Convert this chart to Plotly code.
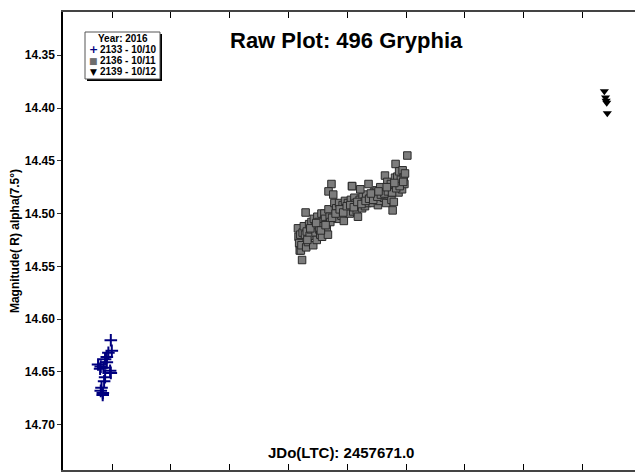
import plotly.graph_objects as go

# Session 2133 - 10/10 (crosses)
s1_x = [1.4978, 1.4995, 1.4937, 1.4910, 1.4910, 1.4807, 1.4852, 1.4796, 1.4966, 1.4978,
        1.4881, 1.4864, 1.4807, 1.4842, 1.4761, 1.4820, 1.4880, 1.4840]
s1_y = [14.620, 14.630, 14.632, 14.636, 14.641, 14.645, 14.646, 14.647, 14.649, 14.651,
        14.655, 14.659, 14.668, 14.670, 14.643, 14.665, 14.638, 14.672]

# Session 2136 - 10/11 (squares)
s2_x = [1.816, 1.817, 1.818, 1.819, 1.820, 1.821, 1.823, 1.822, 1.824,
        1.826, 1.828, 1.829, 1.830, 1.831, 1.833, 1.835, 1.836, 1.838, 1.839, 1.842,
        1.843, 1.845, 1.846, 1.848, 1.849, 1.851, 1.852, 1.854, 1.856, 1.857, 1.859,
        1.861, 1.862, 1.864, 1.865, 1.867, 1.868, 1.870, 1.871, 1.873, 1.868, 1.876, 1.878,
        1.881, 1.883, 1.884, 1.886, 1.888, 1.890, 1.892, 1.894, 1.896, 1.898,
        1.901, 1.903, 1.904, 1.906, 1.908, 1.910, 1.912, 1.914, 1.916, 1.918,
        1.921, 1.923, 1.925, 1.926, 1.928, 1.930, 1.932, 1.934, 1.936, 1.938,
        1.941, 1.943, 1.945, 1.946, 1.948, 1.950, 1.952, 1.954, 1.956, 1.958,
        1.961, 1.962, 1.964, 1.966, 1.968, 1.970, 1.972, 1.974, 1.975, 1.977, 1.978, 1.979,
        1.981, 1.982, 1.984, 1.985, 1.987, 1.988, 1.990, 1.991, 1.993, 1.994, 1.996, 1.997, 2.002,
        1.832, 1.837, 1.847, 1.855, 1.863, 1.874, 1.880, 1.887, 1.893, 1.899, 1.905,
        1.911, 1.917, 1.924, 1.931, 1.937, 1.944, 1.951, 1.957, 1.963, 1.969, 1.976,
        1.983, 1.989, 1.995, 1.998, 1.908, 1.922, 1.940, 1.953, 1.967, 1.980]
s2_y = [14.514, 14.522, 14.528, 14.535, 14.520, 14.535, 14.544, 14.530, 14.518,
        14.512, 14.520, 14.499, 14.532, 14.517, 14.527, 14.510, 14.521, 14.515, 14.508, 14.530,
        14.505, 14.512, 14.518, 14.525, 14.503, 14.508, 14.515, 14.520, 14.500, 14.522, 14.512,
        14.500, 14.505, 14.510, 14.515, 14.520, 14.496, 14.503, 14.508, 14.472, 14.479, 14.482, 14.490,
        14.495, 14.500, 14.505, 14.490, 14.498, 14.502, 14.492, 14.507, 14.488, 14.495,
        14.490, 14.495, 14.500, 14.487, 14.474, 14.498, 14.485, 14.490, 14.497, 14.503,
        14.487, 14.492, 14.495, 14.484, 14.489, 14.493, 14.482, 14.490, 14.472, 14.486,
        14.485, 14.490, 14.480, 14.487, 14.483, 14.478, 14.492, 14.488, 14.475, 14.484,
        14.480, 14.485, 14.464, 14.490, 14.470, 14.478, 14.483, 14.472, 14.487, 14.497, 14.476, 14.489,
        14.466, 14.453, 14.475, 14.465, 14.480, 14.460, 14.472, 14.468, 14.477, 14.459, 14.466, 14.472, 14.445,
        14.525, 14.514, 14.509, 14.516, 14.511, 14.504, 14.500, 14.496, 14.499, 14.493, 14.492,
        14.494, 14.489, 14.491, 14.488, 14.486, 14.487, 14.484, 14.482, 14.481, 14.479, 14.480,
        14.476, 14.474, 14.470, 14.462, 14.474, 14.477, 14.481, 14.479, 14.475, 14.471]

# Session 2139 - 10/12 (triangles)
s3_x = [2.337, 2.339, 2.340, 2.341, 2.342]
s3_y = [14.384, 14.390, 14.393, 14.395, 14.405]

legend_title = "Year: 2016"
names = ["2133 - 10/10", "2136 - 10/11", "2139 - 10/12"]
legend_glyphs = ["+", "\u25a0", "\u25bc"]
legend_colors = ["#00007f", "#6e6e6e", "black"]
main_title = "Raw Plot: 496 Gryphia"
x_label = "JDo(LTC): 2457671.0"
y_label = "Magnitude( R) alpha(7.5°)"
x_ticks = [1.5, 1.6, 1.7, 1.8, 1.9, 2.0, 2.1, 2.2, 2.3]
y_ticks = [14.35, 14.40, 14.45, 14.50, 14.55, 14.60, 14.65, 14.70]

FONT = "Liberation Sans"

# page has an 8px body margin; figure sized so plot area lands at absolute px 63..642 x 12..470
OFF = 8
W, H = 635, 468
PL, PR, PT, PB = 63, 642, 12, 470          # absolute plot-area edges in the window
ML, MR = PL - OFF, OFF + W - PR
MT, MB = PT - OFF, OFF + H - PB
PW, PH = PR - PL, PB - PT


def px(x):
    return (x - PL) / PW


def py(y):
    return (PB - y) / PH


fig = go.Figure()
fig.add_trace(go.Scatter(x=s1_x, y=s1_y, mode="markers", name=names[0],
                         marker=dict(symbol="cross-thin", size=9, color="#00007f",
                                     line=dict(color="#00007f", width=2))))
fig.add_trace(go.Scatter(x=s2_x, y=s2_y, mode="markers", name=names[1],
                         marker=dict(symbol="square", size=7.5, color="#7c7c7c",
                                     line=dict(color="#2a2a2a", width=1))))
fig.add_trace(go.Scatter(x=s3_x, y=s3_y, mode="markers", name=names[2],
                         marker=dict(symbol="triangle-down", size=8, color="black",
                                     line=dict(color="black", width=0))))
fig.add_trace(go.Scatter(x=[None], y=[None], yaxis="y2", showlegend=False, hoverinfo="skip"))

xr = [1.4165, 2.401]
yr = [14.743, 14.309]

shapes = [
    dict(type="rect", xref="paper", yref="paper", x0=px(87), x1=px(162), y0=py(81), y1=py(34),
         fillcolor="black", line=dict(width=0), layer="above"),
    dict(type="rect", xref="paper", yref="paper", x0=px(85), x1=px(160), y0=py(79), y1=py(32),
         fillcolor="white", line=dict(color="#555", width=1), layer="above"),
]

annotations = [
    dict(text="<b>" + main_title + "</b>", xref="paper", yref="paper", x=px(346), y=py(40),
         xanchor="center", yanchor="middle", showarrow=False,
         font=dict(family=FONT, size=22, color="black")),
    dict(text="<b>" + x_label + "</b>", xref="paper", yref="paper", x=px(341), y=py(452),
         xanchor="center", yanchor="middle", showarrow=False,
         font=dict(family=FONT, size=15, color="black")),
    dict(text="<b>" + legend_title + "</b>", xref="paper", yref="paper", x=px(123), y=py(38),
         xanchor="center", yanchor="middle", showarrow=False,
         font=dict(family=FONT, size=10, color="black")),
]
for i, (nm, g, c) in enumerate(zip(names, legend_glyphs, legend_colors)):
    yy = 49 + i * 11.5
    annotations.append(dict(text="<b>" + g + "</b>", xref="paper", yref="paper", x=px(93), y=py(yy),
                            xanchor="center", yanchor="middle", showarrow=False,
                            font=dict(family="DejaVu Sans", size=11 if i == 0 else 9, color=c)))
    annotations.append(dict(text="<b>" + nm + "</b>", xref="paper", yref="paper", x=px(98), y=py(yy),
                            xanchor="left", yanchor="middle", showarrow=False,
                            font=dict(family=FONT, size=10, color="black")))

fig.update_layout(
    width=W, height=H,
    margin=dict(l=ML, r=MR, t=MT, b=MB, autoexpand=False),
    paper_bgcolor="white", plot_bgcolor="white",
    font=dict(family=FONT, size=12, color="black"),
    showlegend=False,
    xaxis=dict(range=xr, tickvals=x_ticks, tickformat=".2f", ticks="inside", ticklen=6,
               tickcolor="black", showline=True, linecolor="#444", linewidth=1.5,
               mirror="ticks", showgrid=False, zeroline=False, automargin=False,
               tickfont=dict(family=FONT, size=12, weight="bold")),
    yaxis=dict(range=yr, tickvals=y_ticks, tickformat=".2f", ticks="outside", ticklen=4,
               tickcolor="#333", showline=True, linecolor="black", linewidth=1.5,
               showgrid=False, zeroline=False, automargin=False,
               tickfont=dict(family=FONT, size=12, weight="bold"),
               title=dict(text=y_label, standoff=6,
                          font=dict(family=FONT, size=12, weight="bold"))),
    yaxis2=dict(range=yr, tickvals=y_ticks, overlaying="y", side="right", ticks="inside",
                ticklen=6, tickcolor="#555", showticklabels=False, showline=True,
                linecolor="#888", linewidth=1, showgrid=False, zeroline=False, automargin=False),
    shapes=shapes,
    annotations=annotations,
)

fig.write_html("out.html")
